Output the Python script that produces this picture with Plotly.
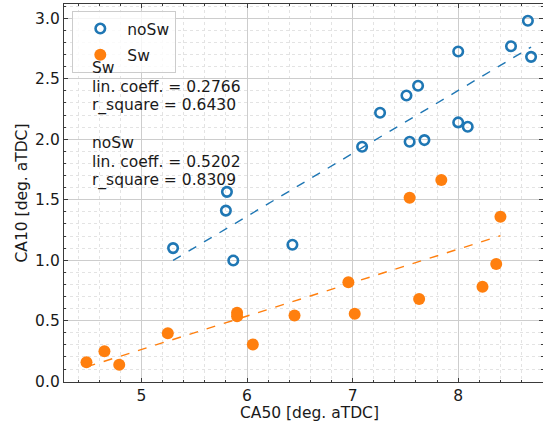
import numpy as np
import plotly.graph_objects as go

# CA50 / CA10 combustion phasing points (deg. aTDC)
nosw_ca50 = [5.30, 5.80, 5.81, 5.87, 6.43, 7.09, 7.26, 7.51, 7.62, 7.54, 7.68,
             8.00, 8.00, 8.09, 8.50, 8.66, 8.69]
nosw_ca10 = [1.100, 1.410, 1.565, 0.997, 1.128, 1.938, 2.219, 2.362, 2.442, 1.979,
             1.993, 2.725, 2.139, 2.103, 2.769, 2.979, 2.681]

sw_ca50 = [4.48, 4.65, 4.79, 5.25, 5.906, 5.906, 6.055, 6.45, 6.96, 7.02, 7.63,
           7.54, 7.84, 8.23, 8.36, 8.40]
sw_ca10 = [0.157, 0.248, 0.135, 0.396, 0.565, 0.537, 0.303, 0.543, 0.818, 0.557,
           0.680, 1.517, 1.663, 0.780, 0.969, 1.360]

# regression results
sw_coeff, sw_r2 = 0.2766, 0.6430
nosw_coeff, nosw_r2 = 0.5202, 0.8309

BLUE = "#1f77b4"
ORANGE = "#ff7f0e"
FONT = "DejaVu Sans"
FS = 15.5


def fit_line(xs, ys, slope):
    xs = np.asarray(xs)
    ys = np.asarray(ys)
    b = ys.mean() - slope * xs.mean()
    xl = np.array([xs.min(), xs.max()])
    return xl, slope * xl + b


fig = go.Figure()
fig.add_trace(go.Scatter(
    x=nosw_ca50, y=nosw_ca10, mode="markers", name="noSw", legendgroup="a",
    marker=dict(symbol="circle-open", size=9.5, color=BLUE, line=dict(width=2.6, color=BLUE)),
))
fig.add_trace(go.Scatter(
    x=sw_ca50, y=sw_ca10, mode="markers", name="Sw", legendgroup="b",
    marker=dict(symbol="circle", size=12, color=ORANGE, line=dict(width=0)),
))

xl, yl = fit_line(nosw_ca50, nosw_ca10, nosw_coeff)
fig.add_trace(go.Scatter(x=xl, y=yl, mode="lines", showlegend=False,
                         line=dict(color=BLUE, width=1.4, dash="dash")))
xl, yl = fit_line(sw_ca50, sw_ca10, sw_coeff)
fig.add_trace(go.Scatter(x=xl, y=yl, mode="lines", showlegend=False,
                         line=dict(color=ORANGE, width=1.4, dash="dash")))

# statistics text block
L, R, T, B = 64, 0, 4, 41.5
W, H = 543, 424
ph = H - T - B
pw = W - L - R
lines = ["Sw", f"lin. coeff. = {sw_coeff:.4f}", f"r_square = {sw_r2:.4f}", "",
         "noSw", f"lin. coeff. = {nosw_coeff:.4f}", f"r_square = {nosw_r2:.4f}"]
first_center, step = 68.3, 18.7
for i, txt in enumerate(lines):
    if not txt:
        continue
    cy = first_center + i * step
    fig.add_annotation(
        text=txt, xref="paper", yref="paper",
        x=(89.5 - L) / pw, y=(H - B - cy) / ph,
        xanchor="left", yanchor="middle", showarrow=False,
        font=dict(family=FONT, size=FS, color="#1a1a1a"),
    )

# x axis title
fig.add_annotation(
    text="CA50 [deg. aTDC]", xref="paper", yref="paper",
    x=(309.5 - L) / pw, y=(H - B - 414) / ph, xanchor="center", yanchor="middle",
    showarrow=False, font=dict(family=FONT, size=FS, color="#1a1a1a"),
)

axis_common = dict(
    showline=True, linecolor="#3a3a3a", linewidth=1.3, mirror="allticks",
    ticks="inside", ticklen=4, tickwidth=1, tickcolor="#3a3a3a",
    showgrid=True, gridcolor="#cdcdcd", gridwidth=1, zeroline=False,
    tickfont=dict(family=FONT, size=FS, color="#1a1a1a"),
)

fig.update_xaxes(
    range=[4.267, 8.803], tickvals=[5, 6, 7, 8], ticktext=["5", "6", "7", "8"],
    minor=dict(dtick=0.2, tick0=0, showgrid=True, gridcolor="#e3e3e3", griddash="dot",
               ticks="inside", ticklen=2, tickcolor="#3a3a3a"),
    ticklabelstandoff=-1,
    **axis_common,
)
fig.update_yaxes(
    range=[-0.007, 3.118], tickvals=[0, 0.5, 1.0, 1.5, 2.0, 2.5, 3.0],
    ticktext=["0.0", "0.5", "1.0", "1.5", "2.0", "2.5", "3.0"],
    minor=dict(dtick=0.1, tick0=0, showgrid=True, gridcolor="#e3e3e3", griddash="dot",
               ticks="inside", ticklen=2, tickcolor="#3a3a3a"),
    title=dict(text="CA10 [deg. aTDC]", font=dict(family=FONT, size=FS, color="#1a1a1a"),
               standoff=3),
    **axis_common,
)

fig.update_layout(
    width=W, height=H,
    margin=dict(l=L, r=R, t=T, b=B, pad=0),
    paper_bgcolor="white", plot_bgcolor="white",
    font=dict(family=FONT, size=FS, color="#1a1a1a"),
    legend=dict(
        x=(72.3 - L) / pw, y=(H - B - 11) / ph, xanchor="left", yanchor="top",
        bgcolor="rgba(255,255,255,0.8)", bordercolor="#cccccc", borderwidth=1,
        font=dict(family=FONT, size=FS, color="#1a1a1a"),
        itemwidth=44, tracegroupgap=3, traceorder="grouped",
    ),
)

fig.write_html("out.html")
